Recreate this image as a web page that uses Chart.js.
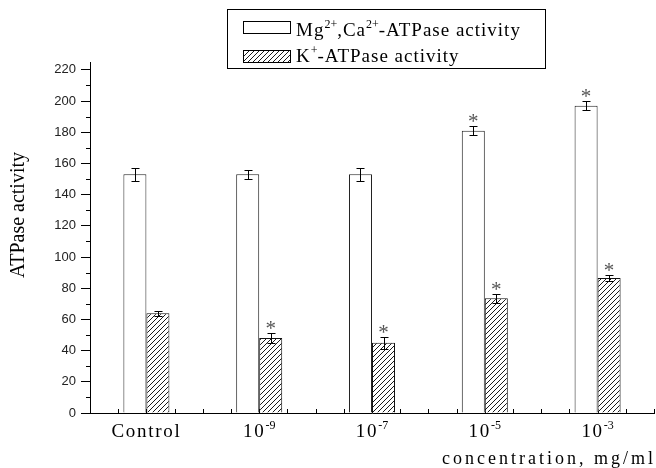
<!DOCTYPE html>
<html>
<head>
<meta charset="utf-8">
<script src="https://cdn.jsdelivr.net/npm/chart.js@4/dist/chart.umd.min.js"></script>
<style>
  html, body { margin: 0; padding: 0; background: #fff; }
  canvas { display: block; }
</style>
</head>
<body>
<canvas id="atpase-chart" width="656" height="468"></canvas>
<script>
// categories, split into base text and superscript part
const categories = ['Control', '10-9', '10-7', '10-5', '10-3'];
const labelBase = ['Control', '10', '10', '10', '10'];
const labelExp = ['', '-9', '-7', '-5', '-3'];

// Mg2+,Ca2+-ATPase (open bars)
const mgCaValues = [153, 153, 153, 181, 197];
const mgCaErrors = [4, 3, 4, 3, 3];
const mgCaStars = [false, false, false, true, true];

// K+-ATPase (hatched bars)
const kValues = [64, 48, 45, 73.5, 86.5];
const kErrors = [1.5, 3, 4, 3, 2];
const kStars = [false, true, true, true, true];

const yTicks = [0, 20, 40, 60, 80, 100, 120, 140, 160, 180, 200, 220];
const yMinorTicks = [10, 30, 50, 70, 90, 110, 130, 150, 170, 190, 210];

const serif = "'Liberation Serif', 'Times New Roman', serif";
const sans = "'Liberation Sans', Arial, sans-serif";

// diagonal hatch fill for K+ bars
function makeHatch() {
    const c = document.createElement('canvas');
    c.width = 5;
    c.height = 5;
    const g = c.getContext('2d');
    g.fillStyle = '#fff';
    g.fillRect(0, 0, 5, 5);
    g.strokeStyle = '#000';
    g.lineWidth = 0.9;
    g.beginPath();
    g.moveTo(0, 5); g.lineTo(5, 0);
    g.moveTo(-1, 1); g.lineTo(1, -1);
    g.moveTo(4, 6); g.lineTo(6, 4);
    g.stroke();
    return g.createPattern(c, 'repeat');
}
const hatch = makeHatch();

// text with superscript pieces; parts = [[text, isSup], ...]
function drawRich(ctx, parts, x, y, size, spacing) {
    let cx = x;
    ctx.textAlign = 'left';
    ctx.textBaseline = 'alphabetic';
    parts.forEach(([t, sup]) => {
        const s = sup ? Math.round(size * 0.62) : size;
        ctx.font = s + 'px ' + serif;
        ctx.letterSpacing = (sup ? 0 : spacing) + 'px';
        ctx.fillText(t, cx, sup ? y - size * 0.42 : y);
        cx += ctx.measureText(t).width;
    });
    ctx.letterSpacing = '0px';
    return cx - x;
}

function measureRich(ctx, parts, size, spacing) {
    let w = 0;
    parts.forEach(([t, sup]) => {
        const s = sup ? Math.round(size * 0.62) : size;
        ctx.font = s + 'px ' + serif;
        ctx.letterSpacing = (sup ? 0 : spacing) + 'px';
        w += ctx.measureText(t).width;
    });
    ctx.letterSpacing = '0px';
    return w;
}

const extras = {
    id: 'extras',
    beforeDatasetsDraw(chart) {
        const ctx = chart.ctx;
        const x = chart.scales.x;
        const y = chart.scales.y;
        const base = y.getPixelForValue(0);
        ctx.save();
        ctx.strokeStyle = '#000';
        ctx.lineWidth = 1;
        ctx.beginPath();
        // small inward ticks along the x axis every quarter category
        for (let v = -0.5; v <= categories.length - 0.5 + 1e-6; v += 0.25) {
            const px = Math.round(x.getPixelForValue(v)) + 0.5;
            ctx.moveTo(px, base);
            ctx.lineTo(px, base - 4);
        }
        // minor y ticks, outward
        yMinorTicks.forEach(v => {
            const py = Math.round(y.getPixelForValue(v)) + 0.5;
            ctx.moveTo(x.left, py);
            ctx.lineTo(x.left - 4, py);
        });
        ctx.stroke();
        ctx.restore();
    },
    afterDatasetsDraw(chart) {
        const ctx = chart.ctx;
        const y = chart.scales.y;
        const errs = [mgCaErrors, kErrors];
        const stars = [mgCaStars, kStars];
        ctx.save();
        chart.data.datasets.forEach((ds, di) => {
            const meta = chart.getDatasetMeta(di);
            meta.data.forEach((bar, i) => {
                const v = ds.data[i];
                const e = errs[di][i];
                const cx = Math.round(bar.x) + 0.5;
                const yt = Math.round(y.getPixelForValue(v + e)) + 0.5;
                const yb = Math.round(y.getPixelForValue(v - e)) + 0.5;
                ctx.strokeStyle = '#000';
                ctx.lineWidth = 1;
                ctx.beginPath();
                ctx.moveTo(cx, yt); ctx.lineTo(cx, yb);
                ctx.moveTo(cx - 4, yt); ctx.lineTo(cx + 4, yt);
                ctx.moveTo(cx - 4, yb); ctx.lineTo(cx + 4, yb);
                ctx.stroke();
                if (stars[di][i]) {
                    ctx.fillStyle = '#555';
                    ctx.font = '21px ' + serif;
                    ctx.textAlign = 'center';
                    ctx.textBaseline = 'alphabetic';
                    ctx.fillText('*', bar.x, yt + 1);
                }
            });
        });
        ctx.restore();
    },
    afterDraw(chart) {
        const ctx = chart.ctx;
        const x = chart.scales.x;
        ctx.save();
        ctx.fillStyle = '#000';

        // category labels
        categories.forEach((c, i) => {
            const parts = [[labelBase[i], false]];
            if (labelExp[i]) parts.push([labelExp[i], true]);
            const w = measureRich(ctx, parts, 19, 1.7);
            drawRich(ctx, parts, x.getPixelForValue(i) - w / 2, 437, 19, 1.7);
        });

        // x axis title, right aligned
        ctx.font = '18px ' + serif;
        ctx.letterSpacing = '3px';
        ctx.textAlign = 'right';
        ctx.fillText('concentration, mg/ml', 656, 464);
        ctx.letterSpacing = '0px';

        // y axis title
        ctx.save();
        ctx.translate(19, 215);
        ctx.rotate(-Math.PI / 2);
        ctx.font = '20px ' + serif;
        ctx.textAlign = 'center';
        ctx.textBaseline = 'middle';
        ctx.fillText('ATPase activity', 0, 0);
        ctx.restore();

        // legend box
        ctx.strokeStyle = '#000';
        ctx.lineWidth = 1;
        ctx.strokeRect(227.5, 9.5, 318, 59);
        ctx.fillStyle = '#fff';
        ctx.fillRect(243.5, 21.5, 47, 12);
        ctx.strokeRect(243.5, 21.5, 47, 12);
        ctx.fillStyle = hatch;
        ctx.fillRect(243.5, 50.5, 47, 12);
        ctx.strokeRect(243.5, 50.5, 47, 12);
        ctx.fillStyle = '#000';
        drawRich(ctx, [['Mg', false], ['2+', true], [',Ca', false], ['2+', true], ['-ATPase activity', false]], 296, 36, 19, 1);
        drawRich(ctx, [['K', false], ['+', true], ['-ATPase activity', false]], 296, 62, 19, 1);
        ctx.restore();
    }
};

new Chart(document.getElementById('atpase-chart'), {
    type: 'bar',
    data: {
        labels: categories,
        datasets: [
            {
                label: 'Mg2+,Ca2+-ATPase activity',
                data: mgCaValues,
                backgroundColor: '#ffffff',
                borderColor: '#222',
                borderWidth: 1,
                barPercentage: 1,
                categoryPercentage: 0.408
            },
            {
                label: 'K+-ATPase activity',
                data: kValues,
                backgroundColor: hatch,
                borderColor: '#111',
                borderWidth: 1,
                barPercentage: 1,
                categoryPercentage: 0.408
            }
        ]
    },
    options: {
        responsive: false,
        animation: false,
        layout: { padding: { top: 62, right: 2, left: 0, bottom: 0 } },
        plugins: {
            legend: { display: false },
            tooltip: { enabled: false }
        },
        scales: {
            x: {
                type: 'category',
                offset: true,
                grid: { display: false },
                border: { display: true, color: '#000', width: 1 },
                ticks: { display: false },
                afterFit(s) { s.height = 55; }
            },
            y: {
                min: 0,
                max: 225,
                afterBuildTicks(axis) {
                    axis.ticks = yTicks.map(v => ({ value: v }));
                },
                grid: {
                    drawOnChartArea: false,
                    drawTicks: true,
                    tickLength: 9,
                    tickColor: '#000'
                },
                border: { color: '#000', width: 1 },
                ticks: {
                    font: { family: sans, size: 13 },
                    color: '#222',
                    padding: 5
                },
                afterFit(s) { s.width = 90; }
            }
        }
    },
    plugins: [extras]
});
</script>
</body>
</html>
